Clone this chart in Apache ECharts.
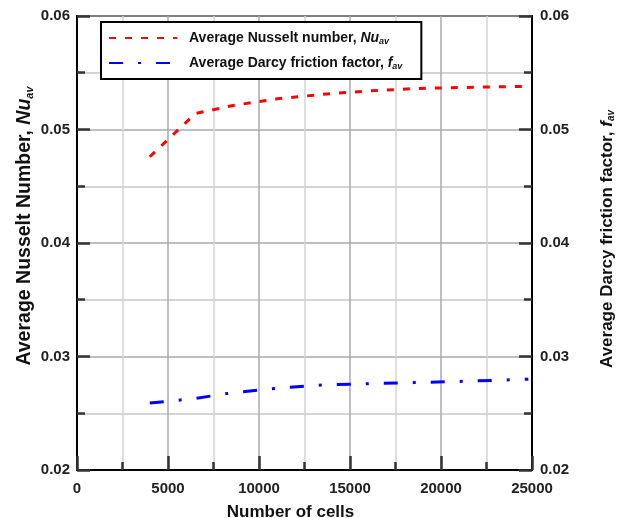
<!DOCTYPE html>
<html>
<head>
<meta charset="utf-8">
<script src="https://cdn.jsdelivr.net/npm/echarts@6/dist/echarts.min.js"></script>
<style>
  html, body { margin: 0; padding: 0; background: #fff; }
  #chart { width: 618px; height: 518px; }
</style>
</head>
<body>
<div id="chart"></div>
<script>
// Grid-independence study: number of mesh cells vs averaged quantities
const cells = [4000, 6500, 8500, 11000, 13500, 16000, 18500, 21000, 24800];
const nusseltAvg = [0.0476, 0.0514, 0.0521, 0.0527, 0.0531, 0.0534, 0.0536, 0.0537, 0.0538];
const darcyAvg = [0.0259, 0.0263, 0.0268, 0.0272, 0.0275, 0.0276, 0.0277, 0.0278, 0.0280];
const xTicks = [0, 5000, 10000, 15000, 20000, 25000];
const yTicks = [0.02, 0.03, 0.04, 0.05, 0.06];

const FONT = '"Liberation Sans", Arial, sans-serif';
const chart = echarts.init(document.getElementById('chart'), null, { renderer: 'canvas' });

const pair = (xs, ys) => xs.map((x, i) => [x, ys[i]]);

function nameStyles(size, subSize, subDrop) {
  return {
    n: { fontFamily: FONT, fontWeight: 'bold', fontSize: size, color: '#111' },
    i: { fontFamily: FONT, fontWeight: 'bold', fontStyle: 'italic', fontSize: size, color: '#111' },
    s: { fontFamily: FONT, fontWeight: 'bold', fontStyle: 'italic', fontSize: subSize, color: '#111', padding: [subDrop, 0, 0, 0] }
  };
}

const yAxisCommon = {
  type: 'value',
  min: 0.02,
  max: 0.06,
  interval: 0.01,
  axisLine: { show: true, lineStyle: { color: '#000', width: 2 } },
  axisTick: { show: true, inside: true, length: 13, lineStyle: { color: '#333', width: 2.5 } },
  minorTick: { show: true, splitNumber: 2, length: 8, lineStyle: { color: '#333', width: 2.5 } },
  axisLabel: {
    fontFamily: FONT, fontWeight: 'bold', fontSize: 15, color: '#222',
    formatter: v => v.toFixed(2)
  },
  nameLocation: 'middle',
  nameRotate: 90,
  nameMoveOverlap: false
};

chart.setOption({
  animation: false,
  backgroundColor: '#fff',
  grid: {
    left: 77, right: 86, top: 16, bottom: 48,
    outerBoundsMode: 'none',
    containLabel: false,
    show: true, borderColor: '#000', borderWidth: 2, backgroundColor: 'transparent'
  },
  legend: {
    orient: 'vertical',
    left: 101, top: 22,
    padding: [9, 19, 8, 7],
    itemWidth: 68, itemHeight: 14, itemGap: 10,
    backgroundColor: '#fff',
    borderColor: '#000', borderWidth: 2,
    itemStyle: { opacity: 0, borderWidth: 0 },
    data: ['nu', 'f'],
    formatter: name => name === 'nu'
      ? '{n|Average Nusselt number, }{i|Nu}{s|av}'
      : '{n|Average Darcy friction factor, }{i|f}{s|av}',
    textStyle: { rich: nameStyles(14, 9, 7), padding: [0, 0, 0, 7] }
  },
  xAxis: {
    type: 'value',
    min: 0, max: 25000, interval: 5000,
    axisLine: { show: true, onZero: false, lineStyle: { color: '#000', width: 2 } },
    axisTick: { show: true, inside: true, length: 14, lineStyle: { color: '#333', width: 2.5 } },
    minorTick: { show: true, splitNumber: 2, length: 8, lineStyle: { color: '#333', width: 2.5 } },
    splitLine: { show: true, lineStyle: { color: '#aaa', width: 1.5 } },
    minorSplitLine: { show: true, lineStyle: { color: '#d4d4d4', width: 1.5 } },
    axisLabel: {
      fontFamily: FONT, fontWeight: 'bold', fontSize: 15, color: '#222', margin: 11,
      customValues: xTicks,
      formatter: v => String(v)
    },
    name: 'Number of cells',
    nameLocation: 'middle',
    nameGap: 34,
    nameMoveOverlap: false,
    nameTextStyle: { fontFamily: FONT, fontWeight: 'bold', fontSize: 17, color: '#111', padding: [0, 28, 0, 0] }
  },
  yAxis: [
    Object.assign({}, yAxisCommon, {
      position: 'left',
      splitLine: { show: true, lineStyle: { color: '#aaa', width: 1.5 } },
      minorSplitLine: { show: true, lineStyle: { color: '#c8c8c8', width: 1.5 } },
      axisLabel: Object.assign({}, yAxisCommon.axisLabel, { margin: 7, customValues: yTicks }),
      name: '{n|Average Nusselt Number, }{i|Nu}{s|av}',
      nameGap: 42,
      nameTextStyle: { rich: nameStyles(19.5, 11, 9), padding: [0, 0, 0, 34] }
    }),
    Object.assign({}, yAxisCommon, {
      position: 'right',
      splitLine: { show: false },
      axisLabel: Object.assign({}, yAxisCommon.axisLabel, { margin: 8, customValues: yTicks }),
      name: '{n|Average Darcy friction factor, }{i|f}{s|av}',
      nameGap: 66,
      nameTextStyle: { rich: nameStyles(17, 10, 8), padding: [0, 0, 0, 8] }
    })
  ],
  series: [
    {
      name: 'nu',
      type: 'line',
      yAxisIndex: 0,
      data: pair(cells, nusseltAvg),
      showSymbol: false,
      symbol: 'none',
      lineStyle: { color: '#ff0000', width: 3, type: [7, 9] },
      itemStyle: { color: '#ff0000' }
    },
    {
      name: 'f',
      type: 'line',
      yAxisIndex: 1,
      data: pair(cells, darcyAvg),
      showSymbol: false,
      symbol: 'none',
      lineStyle: { color: '#0000ff', width: 3, type: [14, 15, 3, 15] },
      itemStyle: { color: '#0000ff' }
    }
  ]
});
</script>
</body>
</html>
